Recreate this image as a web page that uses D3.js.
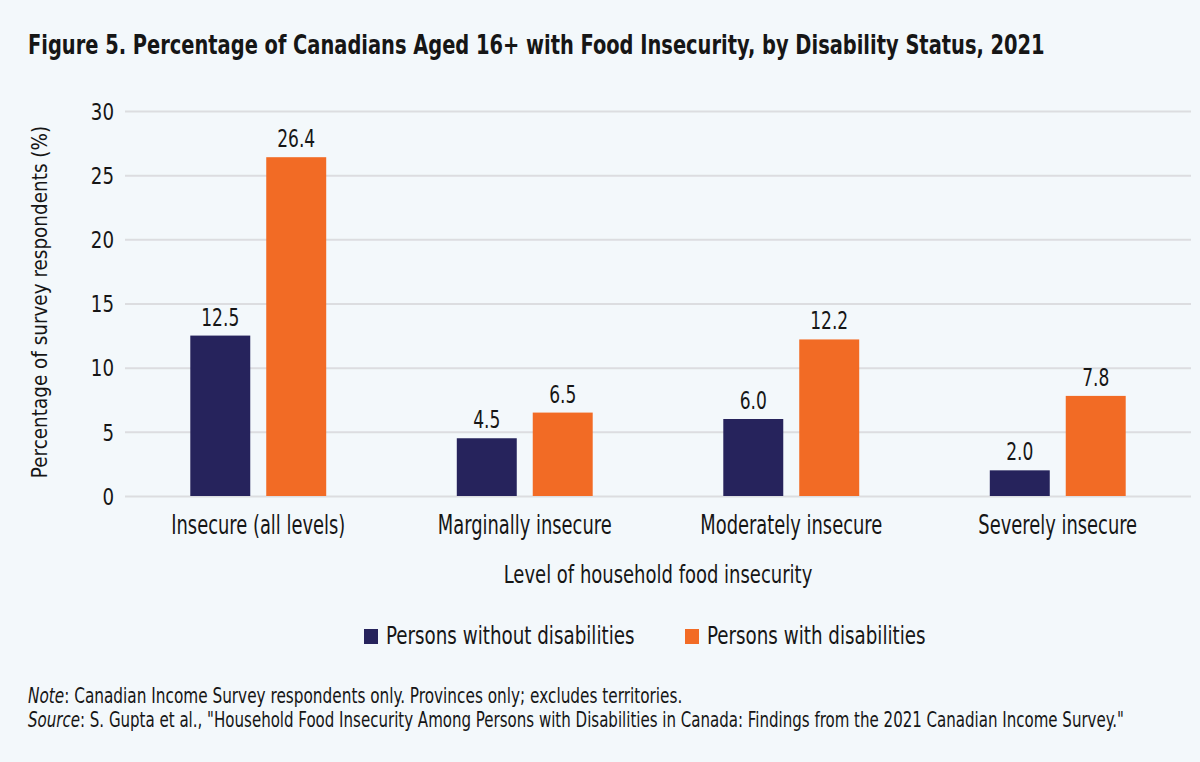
<!DOCTYPE html>
<html><head><meta charset="utf-8">
<script src="https://cdn.jsdelivr.net/npm/d3@7"></script>
<style>
html,body{margin:0;padding:0;background:#f3f8fb;}
svg{display:block;}
text{font-family:"DejaVu Sans Condensed","DejaVu Sans",sans-serif;fill:#161616;}
</style></head>
<body><svg id="chart" width="1200" height="762"></svg>
<script>
const categories = ["Insecure (all levels)", "Marginally insecure", "Moderately insecure", "Severely insecure"];
const seriesNames = ["Persons without disabilities", "Persons with disabilities"];
const withoutDisabilities = [12.5, 4.5, 6.0, 2.0];
const withDisabilities = [26.4, 6.5, 12.2, 7.8];
const yTicks = [0, 5, 10, 15, 20, 25, 30];
const colors = ["#26235c", "#f26b25"];

const titleText = "Figure 5. Percentage of Canadians Aged 16+ with Food Insecurity, by Disability Status, 2021";
const yTitle = "Percentage of survey respondents (%)";
const xTitle = "Level of household food insecurity";
const noteLabel = "Note";
const noteText = ": Canadian Income Survey respondents only. Provinces only; excludes territories.";
const sourceLabel = "Source";
const sourceText = ": S. Gupta et al., \"Household Food Insecurity Among Persons with Disabilities in Canada: Findings from the 2021 Canadian Income Survey.\"";

// horizontally condense text (mimics a condensed typeface) via a scale transform
function condense(sel, k){
  sel.each(function(){
    const t = d3.select(this);
    const x = +(t.attr("x") || 0);
    const tr = t.attr("transform") || "";
    t.attr("x", x / k).attr("transform", (tr ? tr + " " : "") + `scale(${k},1)`);
  });
}

const svg = d3.select("#chart");
svg.append("rect").attr("width",1200).attr("height",762).attr("fill","#f3f8fb");

const m = {left:125, right:1191, top:111, bottom:496};
const x0 = d3.scaleBand().domain(categories).range([m.left, m.right]).paddingInner(0.49).paddingOuter(0.245);
const x1 = d3.scaleBand().domain(seriesNames).range([0, x0.bandwidth()]).paddingInner(0.2105);
const y = d3.scaleLinear().domain([0,30]).range([m.bottom, m.top]);

svg.append("text").attr("x",28).attr("y",54).attr("font-size",27).attr("font-weight","bold").text(titleText)
  .call(condense, 0.8);

// grid + y ticks
const yAxis = d3.axisLeft(y).tickValues(yTicks).tickSize(-(m.right-m.left)).tickPadding(11).tickFormat(d3.format("d"));
const gy = svg.append("g").attr("transform",`translate(${m.left},0)`).call(yAxis);
gy.select(".domain").remove();
gy.selectAll(".tick line").attr("stroke","#dcdde0").attr("stroke-width",2);
gy.selectAll(".tick text").attr("font-size",23).attr("fill","#161616").attr("font-family",null).attr("dy","0.36em")
  .call(condense, 0.88);

const data = categories.map((c,i)=>({cat:c, vals:[withoutDisabilities[i], withDisabilities[i]]}));
const groups = svg.append("g").selectAll("g").data(data).join("g")
  .attr("transform",d=>`translate(${x0(d.cat)},0)`);
groups.selectAll("rect").data(d=>d.vals.map((v,j)=>({s:seriesNames[j], v, j}))).join("rect")
  .attr("x",d=>x1(d.s)).attr("width",x1.bandwidth())
  .attr("y",d=>y(d.v)).attr("height",d=>y(0)-y(d.v))
  .attr("fill",d=>colors[d.j]);
groups.selectAll("text.val").data(d=>d.vals.map((v,j)=>({s:seriesNames[j], v, j}))).join("text")
  .attr("class","val")
  .attr("x",d=>x1(d.s)+x1.bandwidth()/2).attr("y",d=>y(d.v)-10)
  .attr("text-anchor","middle").attr("font-size",25)
  .text(d=>d3.format(".1f")(d.v))
  .call(condense, 0.76);

// x axis labels
const xAxis = d3.axisBottom(x0).tickSize(0).tickPadding(0);
const gx = svg.append("g").attr("transform",`translate(0,${m.bottom})`).call(xAxis);
gx.select(".domain").remove();
gx.selectAll(".tick text").attr("font-size",26).attr("fill","#161616").attr("font-family",null)
  .attr("dy",null).attr("y",38)
  .call(condense, 0.765);

svg.append("text").attr("x",(m.left+m.right)/2).attr("y",583).attr("text-anchor","middle").attr("font-size",25).text(xTitle)
  .call(condense, 0.8);
svg.append("text").attr("transform",`translate(47,302) rotate(-90)`).attr("text-anchor","middle").attr("font-size",22).text(yTitle)
  .call(condense, 0.93);

// legend
const legendX = [364, 685];
const lg = svg.append("g").selectAll("g").data(seriesNames).join("g")
  .attr("transform",(d,i)=>`translate(${legendX[i]},629)`);
lg.append("rect").attr("width",14).attr("height",15).attr("fill",(d,i)=>colors[i]);
lg.append("text").attr("x",22).attr("y",15).attr("font-size",24.5).text(d=>d)
  .call(condense, 0.83);

// notes
const n1 = svg.append("text").attr("x",28).attr("y",703).attr("font-size",20.5);
n1.append("tspan").attr("font-style","italic").text(noteLabel);
n1.append("tspan").text(noteText);
n1.call(condense, 0.83);
const n2 = svg.append("text").attr("x",28).attr("y",727).attr("font-size",20.5);
n2.append("tspan").attr("font-style","italic").text(sourceLabel);
n2.append("tspan").text(sourceText);
n2.call(condense, 0.816);
</script></body></html>
